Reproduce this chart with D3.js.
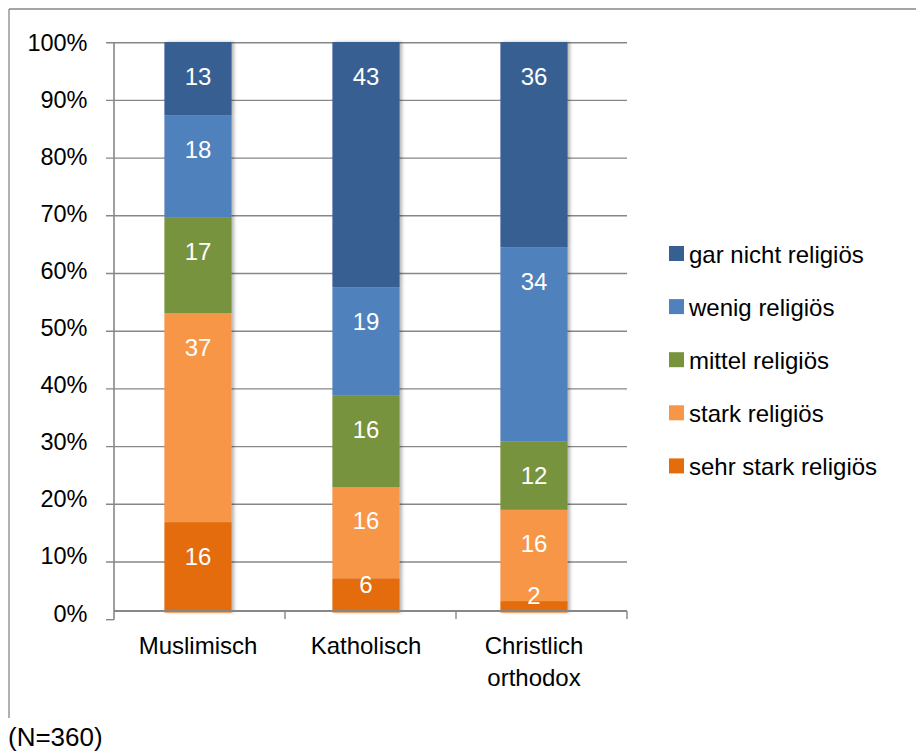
<!DOCTYPE html>
<html><head><meta charset="utf-8">
<script src="https://cdn.jsdelivr.net/npm/d3@7"></script>
<style>
body{margin:0;background:#fff}
svg{display:block}
text{font-family:"Liberation Sans",Arial,Helvetica,sans-serif;}
</style>
</head><body>
<svg id="chart" width="916" height="753"></svg>
<script>
// ---- data ----
const categories = ["Muslimisch", "Katholisch", "Christlich orthodox"];
const categoryLines = [["Muslimisch"], ["Katholisch"], ["Christlich", "orthodox"]];
const seriesKeys = ["sehrStark", "stark", "mittel", "wenig", "garNicht"];
const seriesNames = ["sehr stark religiös", "stark religiös", "mittel religiös", "wenig religiös", "gar nicht religiös"];
const seriesColors = ["#E46C0A", "#F79646", "#77933C", "#4F81BD", "#375F92"];
const sehrStark = [16, 6, 2];
const stark = [37, 16, 16];
const mittel = [17, 16, 12];
const wenig = [18, 19, 34];
const garNicht = [13, 43, 36];
const tickValues = [0, 0.1, 0.2, 0.3, 0.4, 0.5, 0.6, 0.7, 0.8, 0.9, 1];
const tickLabels = ["0%", "10%", "20%", "30%", "40%", "50%", "60%", "70%", "80%", "90%", "100%"];
const note = "(N=360)";

const seriesData = {sehrStark, stark, mittel, wenig, garNicht};
const table = categories.map((c, i) => {
  const row = {cat: c};
  seriesKeys.forEach(k => row[k] = seriesData[k][i]);
  return row;
});
const stacked = d3.stack().keys(seriesKeys).offset(d3.stackOffsetExpand)(table);

const svg = d3.select("#chart");
const gray = "#878787";

// frame
svg.append("line").attr("x1", 9).attr("x2", 916).attr("y1", 9).attr("y2", 9).attr("stroke", gray).attr("stroke-width", 1.3);
svg.append("line").attr("x1", 9).attr("x2", 9).attr("y1", 9).attr("y2", 718).attr("stroke", gray).attr("stroke-width", 1.3);

// scales
const xBar = d3.scaleBand().domain(categories).range([114, 618]).paddingInner(0.6).paddingOuter(0.3);
const xAxisBand = d3.scaleBand().domain(categories).range([114, 627]).padding(0);
const yBar = d3.scaleLinear().domain([0, 1]).range([612.5, 42]);
const yGrid = d3.scaleLinear().domain([0, 1]).range([619.7, 42.7]);

// shadow
const defs = svg.append("defs");
const f = defs.append("filter").attr("id", "sh").attr("x", "-20%").attr("y", "-5%").attr("width", "140%").attr("height", "110%");
f.append("feDropShadow").attr("dx", 2.5).attr("dy", 0).attr("stdDeviation", 1.6).attr("flood-color", "#000").attr("flood-opacity", 0.28);

// gridlines
svg.append("g").selectAll("line").data(tickValues.filter(v => v > 0)).join("line")
  .attr("x1", 106).attr("x2", 627)
  .attr("y1", d => yGrid(d)).attr("y2", d => yGrid(d))
  .attr("stroke", gray).attr("stroke-width", 1.4);
// 0% tick
svg.append("line").attr("x1", 106).attr("x2", 114).attr("y1", yGrid(0)).attr("y2", yGrid(0)).attr("stroke", gray).attr("stroke-width", 1.4);

// bars
const gBars = svg.append("g").attr("filter", "url(#sh)");
stacked.forEach((s, si) => {
  gBars.append("g").selectAll("rect").data(s).join("rect")
    .attr("x", d => xBar(d.data.cat))
    .attr("width", xBar.bandwidth())
    .attr("y", d => yBar(d[1]))
    .attr("height", d => yBar(d[0]) - yBar(d[1]))
    .attr("fill", seriesColors[si]);
});

// value labels
const gLab = svg.append("g");
stacked.forEach((s, si) => {
  gLab.append("g").selectAll("text").data(s).join("text")
    .attr("x", d => xBar(d.data.cat) + xBar.bandwidth() / 2)
    .attr("y", d => {
      const top = yBar(d[1]), bot = yBar(d[0]);
      const cy = (bot - top) >= 45 ? top + 34 : (top + bot) / 2 - 11;
      return cy + 8.5;
    })
    .attr("text-anchor", "middle")
    .attr("fill", "#fff")
    .attr("font-size", "24px")
    .text(d => d.data[s.key]);
});

// axes
svg.append("line").attr("x1", 114).attr("x2", 114).attr("y1", yGrid(1)).attr("y2", yGrid(0)).attr("stroke", gray).attr("stroke-width", 1.6);
svg.append("line").attr("x1", 114).attr("x2", 627).attr("y1", 611).attr("y2", 611).attr("stroke", gray).attr("stroke-width", 1.8);
svg.append("g").selectAll("line").data(categories).join("line")
  .attr("x1", d => xAxisBand(d) + xAxisBand.bandwidth()).attr("x2", d => xAxisBand(d) + xAxisBand.bandwidth())
  .attr("y1", 611).attr("y2", 619).attr("stroke", gray).attr("stroke-width", 1.4);

// y tick labels
svg.append("g").selectAll("text").data(tickValues).join("text")
  .attr("x", 87.5)
  .attr("y", d => yBar(d) + 9)
  .attr("text-anchor", "end")
  .attr("font-size", "23.5px")
  .attr("fill", "#000")
  .text((d, i) => tickLabels[i]);

// category labels
categories.forEach((c, i) => {
  const t = svg.append("text")
    .attr("x", xBar(c) + xBar.bandwidth() / 2)
    .attr("y", 654)
    .attr("text-anchor", "middle")
    .attr("font-size", "24px")
    .attr("fill", "#000");
  categoryLines[i].forEach((ln, j) => {
    t.append("tspan").attr("x", xBar(c) + xBar.bandwidth() / 2).attr("y", 654 + j * 32).text(ln);
  });
});

// legend
const legendOrder = [4, 3, 2, 1, 0];
const lg = svg.append("g");
legendOrder.forEach((si, r) => {
  lg.append("rect").attr("x", 669).attr("y", 246 + r * 53.1).attr("width", 15).attr("height", 15).attr("fill", seriesColors[si]);
  lg.append("text").attr("x", 689).attr("y", 263 + r * 53.1).attr("font-size", "24px").attr("fill", "#000").text(seriesNames[si]);
});

// note
svg.append("text").attr("x", 8).attr("y", 746).attr("font-size", "26px").attr("fill", "#000").text(note);
</script>
</body></html>
